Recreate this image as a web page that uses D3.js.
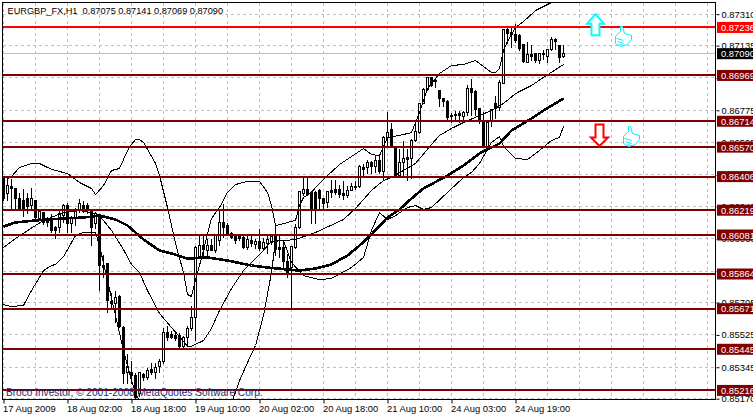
<!DOCTYPE html>
<html><head><meta charset="utf-8">
<script src="https://cdn.jsdelivr.net/npm/d3@7/dist/d3.min.js"></script>
<style>
html,body{margin:0;padding:0;background:#fff;overflow:hidden}
svg{display:block}
text{font-family:"Liberation Sans",Arial,sans-serif;font-size:9.4px}
</style></head><body><svg id="c" width="753" height="417"></svg>
<script>
// prices are in points (1e-5)
const title="EURGBP_FX,H1  0.87075 0.87141 0.87069 0.87090";
const copyright="Broco Investor, © 2001-2008 MetaQuotes Software Corp.";
const opens=[86395,86312,86351,86340,86284,86273,86284,86245,86273,86173,86206,86162,86156,86123,86123,86189,86245,86145,86173,86217,86245,86245,86212,86145,86195,85911,85922,85711,85700,85739,85566,85316,85316,85299,85199,85305,85288,85333,85316,85349,85377,85538,85527,85521,85521,85461,85511,85561,85622,85960,86022,85995,86022,85995,86050,86151,86134,86089,86073,86073,86067,86011,86050,86028,86045,86006,86034,86039,86073,86011,86011,85934,85900,86011,86123,86312,86334,86318,86318,86329,86284,86262,86329,86334,86334,86312,86301,86329,86351,86351,86457,86457,86484,86462,86496,86434,86624,86668,86568,86412,86484,86512,86507,86607,86651,86813,86891,86958,86941,86885,86841,86824,86746,86752,86757,86740,86763,86896,86880,86785,86718,86573,86713,86813,86791,86924,87225,87208,87197,87191,87141,87041,87085,87091,87052,87091,87074,87113,87169,87136,87075];
const highs=[86401,86407,86395,86345,86318,86340,86318,86345,86279,86217,86212,86184,86201,86134,86217,86256,86262,86189,86234,86284,86273,86262,86223,86212,86201,85972,85928,85761,85772,85750,85577,85422,85382,85316,85316,85316,85344,85371,85371,85394,85566,85577,85549,85544,85538,85521,85577,85689,86022,86078,86078,86062,86062,86089,86223,86256,86151,86100,86089,86089,86078,86078,86078,86062,86117,86067,86078,86089,86134,86089,86050,85978,86017,86145,86329,86412,86412,86329,86329,86340,86290,86329,86390,86390,86362,86384,86356,86373,86384,86473,86479,86501,86496,86523,86529,86635,86768,86707,86573,86562,86607,86562,86618,86707,86818,86902,86958,86963,86952,86891,86846,86835,86763,86774,86774,86774,86919,86952,86891,86791,86768,86718,86785,86857,86946,87225,87236,87236,87258,87202,87147,87158,87141,87097,87097,87113,87119,87186,87180,87141,87141];
const lows=[86273,86273,86229,86229,86217,86184,86201,86229,86173,86162,86139,86128,86095,86062,86095,86151,86095,86095,86134,86206,86206,86201,86022,86117,85772,85844,85650,85672,85594,85566,85255,85255,85255,85160,85182,85271,85277,85305,85282,85316,85366,85494,85505,85494,85455,85455,85461,85549,85494,85956,85967,85950,85995,85984,86022,86067,86078,86062,86034,86050,86006,86000,86017,86006,85995,85995,85978,86028,85967,85956,85900,85844,85678,86006,86117,86301,86301,86145,86145,86229,86229,86234,86290,86306,86290,86279,86290,86329,86334,86345,86401,86423,86423,86429,86423,86384,86568,86568,86412,86401,86401,86384,86395,86601,86646,86813,86885,86907,86902,86796,86796,86724,86707,86718,86707,86707,86746,86746,86746,86701,86568,86568,86685,86729,86774,86924,87147,87124,87152,87108,87041,87041,87052,87041,87035,87058,87041,87108,87113,87041,87069];
const closes=[86284,86356,86340,86284,86223,86229,86240,86284,86178,86212,86151,86151,86106,86106,86201,86245,86145,86173,86217,86256,86223,86217,86123,86201,85911,85900,85716,85700,85733,85572,85310,85349,85299,85177,85316,85288,85327,85316,85344,85377,85538,85511,85511,85505,85461,85511,85561,85622,86011,86022,86000,86022,85995,86078,86151,86123,86089,86067,86050,86062,86011,86056,86034,86045,86006,86039,86056,86073,86000,86000,85934,85867,86017,86123,86323,86334,86306,86217,86217,86284,86256,86323,86318,86318,86306,86301,86329,86351,86345,86462,86446,86484,86462,86496,86434,86624,86651,86568,86412,86484,86507,86501,86607,86657,86813,86891,86958,86913,86935,86841,86824,86735,86740,86746,86746,86763,86896,86874,86779,86718,86568,86707,86779,86785,86930,87225,87202,87197,87163,87119,87047,87085,87074,87052,87091,87085,87113,87169,87158,87069,87090];

const upperBars=[1,2,4,7,9,12,16,19,22,23,25,27,29,31,32,33,34,35,38,39,41,43,45,46,47,48,49,52,54,56,58,61,64,66,67,68,69,73,74,75,77,78,81,84,90,92,94,96,99,102,104,106,109,112,115,118,120,122,123,124,125,126,128,130,133,137];
const upperVals=[86395,86407,86457,86479,86479,86446,86423,86373,86340,86306,86356,86440,86451,86551,86585,86612,86612,86596,86479,86412,86234,86034,85872,85750,85739,85828,85911,86173,86234,86318,86362,86379,86379,86318,86245,86134,86139,86162,86245,86290,86318,86345,86412,86473,86562,86529,86523,86624,86635,86651,86763,86896,86980,87024,87030,87052,87019,86985,86985,87008,87108,87158,87236,87269,87330,87375];
const midBars=[0,3,8,10,15,19,23,24,27,30,32,34,36,39,42,44,46,47,50,52,54,57,60,62,64,67,70,73,78,85,88,92,95,97,100,103,107,109,112,115,119,122,125,128,132,135,140];
const midVals=[86011,86062,86134,86162,86206,86217,86201,86189,86106,86000,85917,85872,85772,85644,85566,85516,85461,85461,85494,85561,85661,85783,85883,85928,85972,86045,86050,86056,86095,86167,86229,86329,86384,86401,86440,86479,86585,86635,86674,86707,86746,86774,86813,86868,86913,86958,87030];
const lowerBars=[0,2,5,7,10,12,13,15,18,20,23,24,26,28,30,32,34,46,47,48,57,59,61,63,65,67,68,70,72,75,79,82,87,90,92,94,96,98,101,103,105,107,111,115,117,119,122,124,125,128,131,134,137,139,140];
const lowerVals=[85694,85683,85689,85772,85883,85911,85917,85961,86078,86095,86095,86022,85828,85633,85438,85271,85149,85143,85166,85143,85143,85271,85371,85466,85633,85872,86050,86050,85928,85855,85833,85839,85900,85956,86106,86206,86167,86189,86234,86245,86223,86234,86318,86401,86429,86479,86596,86629,86574,86507,86501,86551,86607,86624,86685];
const maBars=[0,3,8,15,20,24,28,31,35,39,43,46,51,56,62,66,71,74,78,82,86,89,92,96,99,102,105,111,115,119,124,127,132,135,140];
const maVals=[86128,86151,86162,86173,86178,86189,86167,86134,86056,85995,85972,85950,85956,85939,85911,85900,85889,85883,85895,85917,85967,86022,86084,86178,86223,86284,86340,86412,86468,86535,86590,86663,86729,86774,86841];

const gridTicks=[87310,87135,86955,86775,86595,86415,86240,86060,85880,85705,85525,85345,85170];
const darkLevels=[86969,86714,86570,86406,86219,86081,85864,85671,85445,85216];
const redLevel=87236;
const lastPrice=87090;
const timeBars=[0,16,32,48,64,80,96,112,128];
const timeLabels=["17 Aug 2009","18 Aug 02:00","18 Aug 18:00","19 Aug 10:00","20 Aug 02:00","20 Aug 18:00","21 Aug 10:00","24 Aug 03:00","24 Aug 19:00"];
const gridBars=[0,8,16,24,32,40,48,56,64,72,80,88,96,104,112,120,128,136,144,152,160,168,176];

const plotL=3,plotR=715.5,plotT=2.5,plotB=399.5;
const x=d3.scaleLinear().domain([0,1]).range([3.5,7.5]);
const y=d3.scaleLinear().domain([85160,87386]).range([400.5,0.5]);
const px=v=>Math.round(y(v)-.5)+.5;
const fmt=v=>(v/1e5).toFixed(5);
const svg=d3.select("#c");
svg.append("clipPath").attr("id","plot").append("rect").attr("x",plotL).attr("y",plotT).attr("width",plotR-plotL).attr("height",plotB-plotT);
const plot=svg.append("g").attr("clip-path","url(#plot)").attr("shape-rendering","crispEdges");

// grid
plot.append("g").selectAll("line").data(gridTicks).join("line")
 .attr("x1",plotL).attr("x2",plotR).attr("y1",px).attr("y2",px)
 .attr("stroke","#c0c0c0").attr("stroke-dasharray","3,3");
plot.append("g").selectAll("line").data(gridBars).join("line")
 .attr("x1",x).attr("x2",x).attr("y1",plotT).attr("y2",plotB)
 .attr("stroke","#c0c0c0").attr("stroke-dasharray","3,3");
// last price
plot.append("line").attr("x1",plotL).attr("x2",plotR).attr("y1",px(lastPrice)).attr("y2",px(lastPrice)).attr("stroke","#c0c0c0");

// candles
const cg=plot.append("g");
opens.forEach((o,i)=>{
 const c=closes[i],xx=x(i);
 cg.append("line").attr("x1",xx).attr("x2",xx).attr("y1",px(highs[i])).attr("y2",px(lows[i])).attr("stroke","#000");
 const t=Math.max(o,c),b=Math.min(o,c);
 cg.append("rect").attr("x",xx-1).attr("width",2).attr("y",px(t)).attr("height",Math.max(0,px(b)-px(t)))
  .attr("fill",c>o?"#fff":"#000").attr("stroke","#000");
});

// indicators
const lineGen=d3.line().x(d=>x(d[0])).y(d=>y(d[1]));
function series(bars,vals,w){
 plot.append("path").attr("d",lineGen(bars.map((b,i)=>[b,vals[i]]))).attr("fill","none").attr("stroke","#000").attr("stroke-width",w);
}
series(upperBars,upperVals,1);series(midBars,midVals,1);series(lowerBars,lowerVals,1);series(maBars,maVals,2.6);

// levels
plot.append("g").selectAll("line").data(darkLevels).join("line")
 .attr("x1",plotL).attr("x2",plotR).attr("y1",d=>y(d)).attr("y2",d=>y(d)).attr("stroke","#800000").attr("stroke-width",2);
plot.append("line").attr("x1",plotL).attr("x2",plotR).attr("y1",y(redLevel)).attr("y2",y(redLevel)).attr("stroke","#ff0000").attr("stroke-width",2);

// signal arrows and thumbs, anchored on bar/price
const arrowUp=[148,87310];
const arrowDown=[149,86696];
const thumbs=[[155,87186],[157,86629]];
function anchor(p){return "translate("+x(p[0])+","+y(p[1])+")";}
const ann=svg.append("g");
ann.append("path").attr("transform",anchor(arrowUp))
 .attr("d","M0,0L8.5,9.5H4V21H-4V9.5H-8.5Z").attr("fill","#fff").attr("stroke","#00ffff").attr("stroke-width",2);
ann.append("path").attr("transform",anchor(arrowDown))
 .attr("d","M-4,0H4V13H8.5L0,21.5L-8.5,13H-4Z").attr("fill","#fff").attr("stroke","#ff0000").attr("stroke-width",2);
thumbs.forEach(t=>{
 const g=ann.append("g").attr("transform",anchor(t)).attr("fill","#fff").attr("stroke","#00f0ff").attr("stroke-width",1);
 g.append("path").attr("d","M-3,-10L-1,-10L1,-3L8,-1L8,3L4,8L-3,10L-8,7L-8,0L-3,-5Z");
 g.append("path").attr("d","M-7,2L0,4M-6,5L0,7M-4,8L0,9").attr("fill","none");
});

// axes
const rightAxis=d3.axisRight(y).tickValues(gridTicks).tickFormat(fmt).tickSize(3).tickPadding(2);
const gr=svg.append("g").attr("transform","translate(716.5,0)").call(rightAxis);
gr.select(".domain").remove();
gr.selectAll("text").attr("fill","#000").attr("font-size",null);
const bottomAxis=d3.axisBottom(x).tickValues(timeBars).tickFormat((d,i)=>timeLabels[i]).tickSize(4).tickPadding(2);
const gb=svg.append("g").attr("transform","translate(0,399.5)").call(bottomAxis);
gb.select(".domain").remove();
gb.selectAll("text").attr("text-anchor","start").attr("dx",-1).attr("fill","#000").attr("font-size",null);

// frame
svg.append("rect").attr("x",plotL-.5).attr("y",plotT).attr("width",plotR-plotL+.5).attr("height",plotB-plotT)
 .attr("fill","none").attr("stroke","#000").attr("shape-rendering","crispEdges");

// price labels
function priceTag(v,fill,col){
 const g=svg.append("g");
 g.append("rect").attr("x",717).attr("y",y(v)-5.5).attr("width",36).attr("height",11).attr("fill",fill);
 g.append("text").attr("x",721).attr("y",y(v)+3.5).attr("fill",col).text(fmt(v));
}
darkLevels.forEach(v=>priceTag(v,"#800000","#ffffff"));
priceTag(redLevel,"#ff0000","#ffffff");
priceTag(lastPrice,"#000000","#ffffff");

// texts
svg.append("text").attr("x",7.5).attr("y",13.5).attr("fill","#000").style("white-space","pre").style("font-size","9.2px").text(title);
svg.append("text").attr("x",6).attr("y",396).attr("fill","#1a2a70").style("font-size","10.1px").text(copyright);
</script></body></html>
